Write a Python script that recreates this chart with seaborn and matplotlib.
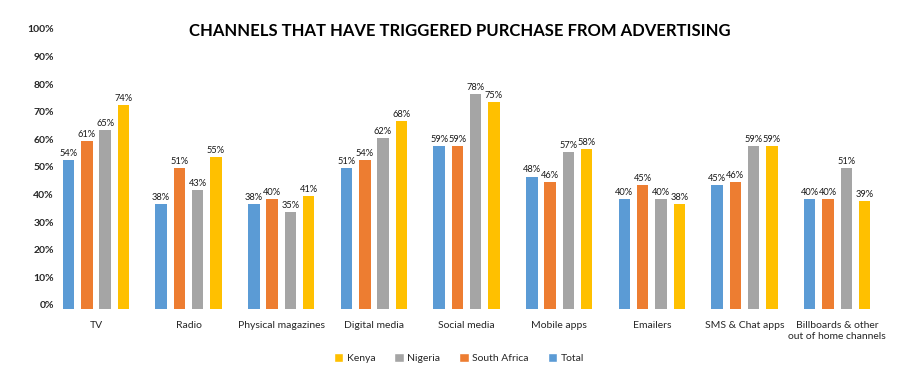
import matplotlib
matplotlib.use("Agg")
import matplotlib.pyplot as plt
import matplotlib.transforms as mtransforms
from matplotlib.patches import Patch
import seaborn as sns
import pandas as pd

categories = ["TV", "Radio", "Physical magazines", "Digital media", "Social media",
              "Mobile apps", "Emailers", "SMS & Chat apps",
              "Billboards & other\nout of home channels"]
series_names = ["Total", "South Africa", "Nigeria", "Kenya"]
total = [54, 38, 38, 51, 59, 48, 40, 45, 40]
south_africa = [61, 51, 40, 54, 59, 46, 45, 46, 40]
nigeria = [65, 43, 35, 62, 78, 57, 40, 59, 51]
kenya = [74, 55, 41, 68, 75, 58, 38, 59, 39]
yticks = [0, 10, 20, 30, 40, 50, 60, 70, 80, 90, 100]
title = "CHANNELS THAT HAVE TRIGGERED PURCHASE FROM ADVERTISING"

colors = {"Total": "#5B9BD5", "South Africa": "#ED7D31", "Nigeria": "#A5A5A5", "Kenya": "#FFC000"}

rows = []
for name, vals in zip(series_names, [total, south_africa, nigeria, kenya]):
    for c, v in zip(categories, vals):
        rows.append({"channel": c, "country": name, "value": v})
df = pd.DataFrame(rows)

sns.set_theme(style="white")
plt.rcParams["font.family"] = ["Lato", "DejaVu Sans"]

fig = plt.figure(figsize=(9.09, 3.85), dpi=100)
ax = fig.add_axes([49.6 / 909, 76 / 385, 833.9 / 909, 276 / 385])

sns.barplot(data=df, x="channel", y="value", hue="country", order=categories,
            hue_order=series_names, palette=colors, ax=ax, gap=0.37,
            width=0.79, legend=False, saturation=1, linewidth=0)

for cont in ax.containers:
    ax.bar_label(cont, labels=[f"{int(round(b.get_height()))}%" for b in cont],
                 padding=1.5, fontsize=6.7, color="#1a1a1a")

ax.set_xlim(-0.5, len(categories) - 0.5)
ax.set_ylim(0, 100)
ax.set_yticks(yticks)
ax.set_yticklabels([f"{t}%" for t in yticks], fontsize=7.5, fontweight="bold")
ax.tick_params(axis="y", length=0, pad=-3)
ax.tick_params(axis="x", length=0, pad=9, labelsize=7.5)
offset = mtransforms.ScaledTranslation(0, 4 / 100, fig.dpi_scale_trans)
for lab in ax.get_yticklabels():
    lab.set_transform(lab.get_transform() + offset)
ax.set_xlabel("")
ax.set_ylabel("")
for s in ax.spines.values():
    s.set_visible(False)
ax.grid(False)

fig.text(460 / 909, 1 - 31 / 385, title, ha="center", va="center",
         fontsize=12, fontweight="bold", color="#000000")

handles = [Patch(facecolor=colors[n], label=n) for n in reversed(series_names)]
fig.legend(handles=handles, loc="center", bbox_to_anchor=(459 / 909, 1 - 358 / 385),
           ncol=4, frameon=False, fontsize=7.5, handlelength=0.9, handleheight=0.9,
           handletextpad=0.35, columnspacing=1.8)

fig.savefig("out.png", dpi=100, facecolor="white")
